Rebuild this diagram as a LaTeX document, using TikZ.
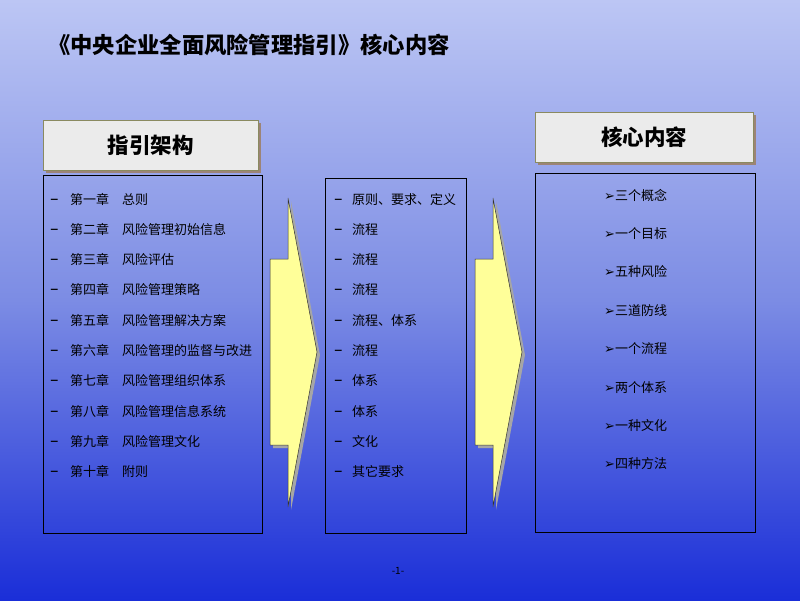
\documentclass[tikz,border=0pt]{standalone}
\usepackage{fontspec}
\setmainfont{Noto Sans CJK SC}
\newfontfamily\djv{DejaVu Sans}
\usetikzlibrary{shadows}
\definecolor{bgtop}{HTML}{BCC6F4}
\definecolor{bgmid}{HTML}{7C8CE4}
\definecolor{bgbot}{HTML}{1A2ED8}
\definecolor{hdrfill}{HTML}{EBEBEB}
\definecolor{hdrline}{HTML}{8A8A60}
\definecolor{hdrshadow}{HTML}{9C8476}
\definecolor{arrowfill}{HTML}{FFFF99}
\tikzset{
  hdrbox/.style={draw=hdrline, line width=0.6pt, fill=hdrfill, minimum width=215pt, minimum height=50pt, inner sep=0pt,
    font=\fontsize{21.5}{24}\selectfont\bfseries,
    drop shadow={shadow xshift=3pt, shadow yshift=-3pt, fill=hdrshadow, opacity=1}},
  listbox/.style={draw=black, line width=0.8pt},
  item/.style={anchor=west, inner sep=0pt, text height=10pt, text depth=2pt, font=\fontsize{13}{15}\selectfont},
  ritem/.style={anchor=west, inner sep=0pt, text height=10pt, text depth=2pt, font=\fontsize{13}{15}\selectfont},
  bigarrow/.style={draw=black!80, line width=0.5pt, fill=arrowfill}
}
\newcommand{\dsh}{{\djv\fontsize{17}{15}\selectfont –}}
\begin{document}
\begin{tikzpicture}[x=1pt,y=-1pt]
\useasboundingbox (0,0) rectangle (800,600);
\shade[top color=bgtop, bottom color=bgbot, middle color=bgmid] (0,0) rectangle (800,600);
% title
\node[anchor=west, inner sep=0pt, font=\fontsize{22.3}{24}\selectfont\bfseries] (title) at (48,45) {《中央企业全面风险管理指引》核心内容};
% headers
\node[hdrbox] (h1) at (150.5,145) {指引架构};
\node[hdrbox, minimum width=218pt] (h2) at (644,137) {核心内容};
% content boxes
\node[listbox, minimum width=219pt, minimum height=358pt, inner sep=0pt] (b1) at (152.5,354) {};
\node[listbox, minimum width=141pt, minimum height=355pt, inner sep=0pt] (b2) at (395.5,355.5) {};
\node[listbox, minimum width=220pt, minimum height=359pt, inner sep=0pt] (b3) at (645,352.5) {};
% arrows
\fill[black!35] (273,262) -- (291,262) -- (291,201) -- (320,355) -- (291,510) -- (291,448) -- (273,448) -- cycle;
\draw[bigarrow] (270,259) -- (288,259) -- (288,198) -- (317,352) -- (288,507) -- (288,445) -- (270,445) -- cycle;
\fill[black!35] (478,262) -- (496,262) -- (496,201) -- (525,355) -- (496,510) -- (496,448) -- (478,448) -- cycle;
\draw[bigarrow] (475,259) -- (493,259) -- (493,198) -- (522,352) -- (493,507) -- (493,445) -- (475,445) -- cycle;
% left list
\foreach \i/\ch/\tx in {0/第一章/总则,1/第二章/风险管理初始信息,2/第三章/风险评估,3/第四章/风险管理策略,4/第五章/风险管理解决方案,5/第六章/风险管理的监督与改进,6/第七章/风险管理组织体系,7/第八章/风险管理信息系统,8/第九章/风险管理文化,9/第十章/附则}{
  \node[item] (ld\i) at (50,{200+30.3*\i}) {\dsh};
  \node[item] (lc\i) at (70,{200+30.3*\i}) {\ch};
  \node[item] (lt\i) at (122,{200+30.3*\i}) {\tx};
}
% middle list
\foreach \i/\tx in {0/原则、要求、定义,1/流程,2/流程,3/流程,4/流程、体系,5/流程,6/体系,7/体系,8/文化,9/其它要求}{
  \node[item] (md\i) at (334,{200+30.3*\i}) {\dsh};
  \node[item] (mt\i) at (352,{200+30.3*\i}) {\tx};
}
% right list
\foreach \i/\tx in {0/三个概念,1/一个目标,2/五种风险,3/三道防线,4/一个流程,5/两个体系,6/一种文化,7/四种方法}{
  \node[ritem] (r\i) at (604,{196+38.4*\i}) {{\djv\bfseries\fontsize{13}{15}\selectfont ➢}\tx};
}
% page number
\node[inner sep=0pt, font=\fontsize{10}{11}\selectfont] (pg) at (398,571) {-1-};
\end{tikzpicture}
\end{document}
